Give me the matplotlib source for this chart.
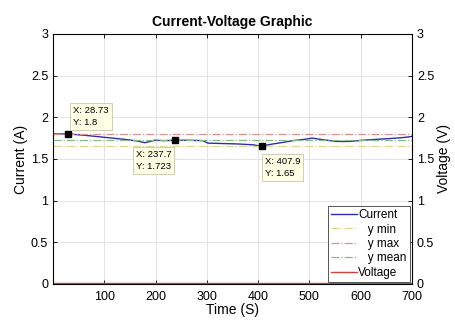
import matplotlib
matplotlib.use('Agg')
import matplotlib.pyplot as plt

plt.rcParams['font.family'] = ['Liberation Sans', 'DejaVu Sans']

# current samples
time_s = [0, 15, 28.73, 60, 100, 140, 165, 179, 186, 199, 215, 237.7, 260,
          292, 302, 330, 360, 390, 407.9, 415, 429, 450, 468, 490, 505,
          527, 553, 579, 605, 630, 657, 680, 700]
current_a = [1.80, 1.80, 1.80, 1.785, 1.76, 1.735, 1.715, 1.695, 1.705,
             1.725, 1.72, 1.723, 1.725, 1.72, 1.69, 1.685, 1.68, 1.67,
             1.65, 1.665, 1.68, 1.70, 1.72, 1.735, 1.75, 1.73, 1.71,
             1.71, 1.725, 1.735, 1.745, 1.755, 1.77]

volt_t = [0, 700]
voltage_v = [0.01, 0.01]

y_min = 1.65
y_max = 1.80
y_mean = 1.727

tips = [(28.73, 1.8), (237.7, 1.723), (407.9, 1.65)]
tip_offsets = [(4, 5), (-28, -22), (2, -23)]

fig = plt.figure(figsize=(4.55, 3.2), dpi=100)
ax = fig.add_axes([0.1165, 0.1125, 0.789, 0.7815])
ax2 = ax.twinx()

l1, = ax.plot(time_s, current_a, color='#2E2EA8', lw=1.0, label='Current')
l2 = ax.axhline(y_min, color='#D8D890', lw=0.9, ls='-.', label='   y min')
l3 = ax.axhline(y_max, color='#D89090', lw=0.9, ls='-.', label='   y max')
l4 = ax.axhline(y_mean, color='#88B888', lw=0.9, ls='-.', label='   y mean')
l5, = ax2.plot(volt_t, voltage_v, color='#D04040', lw=1.0, label='Voltage')

for (tx, ty), off in zip(tips, tip_offsets):
    ax.plot(tx, ty, 's', color='black', ms=4.5, zorder=5)
    ax.annotate('X: %g\nY: %g' % (tx, ty), (tx, ty), xytext=off,
                textcoords='offset points', fontsize=6.8, va='bottom',
                linespacing=1.45,
                bbox=dict(boxstyle='square,pad=0.3', fc='#FFFFE6',
                          ec='#C8C8B0', lw=0.6), zorder=6)

for a in (ax, ax2):
    a.set_xlim(0, 700)
    a.set_ylim(0, 3)
    a.tick_params(direction='in', labelsize=9, length=3, width=0.6)
ax.tick_params(axis='x', pad=5)
ax.set_xticks(range(100, 701, 100))
ax.set_yticks([0, 0.5, 1, 1.5, 2, 2.5, 3])
ax.set_yticklabels(['0', '0.5', '1', '1.5', '2', '2.5', '3'])
ax2.set_yticks([0, 0.5, 1, 1.5, 2, 2.5, 3])
ax2.set_yticklabels(['0', '0.5', '1', '1.5', '2', '2.5', '3'])
ax.tick_params(top=True)
ax.grid(True, color='#E3E3E3', lw=0.7)
ax.set_axisbelow(True)
for s in ax.spines.values():
    s.set_linewidth(0.7)

ax.set_xlabel('Time (S)', fontsize=10, labelpad=0)
ax.set_ylabel('Current (A)', fontsize=10, labelpad=2)
ax2.set_ylabel('Voltage (V)', fontsize=10, labelpad=2)
ax.set_title('Current-Voltage Graphic', fontsize=10, fontweight='bold', pad=6)

leg = ax2.legend(handles=[l1, l2, l3, l4, l5], loc='lower right',
                 fontsize=8.5, frameon=True, fancybox=False, framealpha=1,
                 borderpad=0.25, labelspacing=0.2, handlelength=2.2,
                 handletextpad=0.1, borderaxespad=0.2)
leg.get_frame().set_edgecolor('#555555')
leg.get_frame().set_linewidth(0.7)

fig.savefig('out.png', dpi=100)
